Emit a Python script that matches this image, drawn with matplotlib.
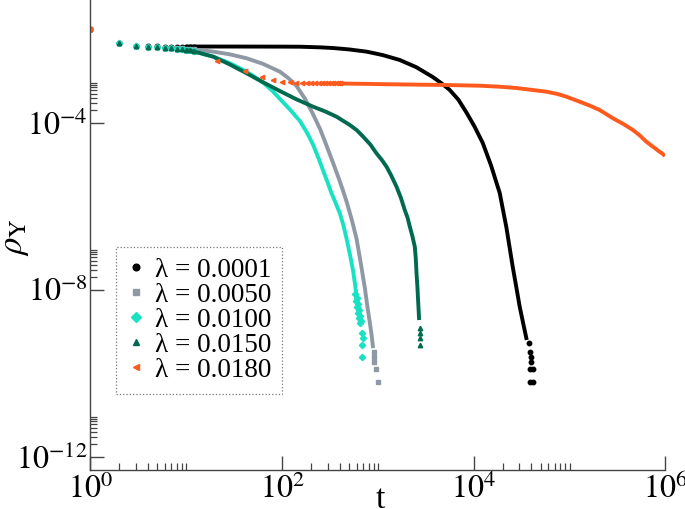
import matplotlib
matplotlib.use("Agg")
import matplotlib.pyplot as plt
import numpy as np
from matplotlib.ticker import FixedLocator, FixedFormatter, NullFormatter

plt.rcParams["font.family"] = ["Liberation Serif", "DejaVu Serif"]
plt.rcParams["mathtext.fontset"] = "stix"

# ---- data (log10 values) ----
labels = ["λ = 0.0001", "λ = 0.0050", "λ = 0.0100", "λ = 0.0150", "λ = 0.0180"]
colors = ["#000000", "#8e99a5", "#19e2c3", "#006a50", "#ff5a1e"]
markers = ["o", "s", "D", "^", "<"]

# sparse markers at early times (t = 1 .. 12)
t_early = [1, 2, 3, 4, 5, 6, 7, 8, 9, 10, 11, 12]
black_early = [-1.756, -2.098, -2.168, -2.172, -2.174, -2.175, -2.175, -2.175, -2.175, -2.175, -2.175, -2.175]
grey_early = [-1.756, -2.098, -2.168, -2.18, -2.19, -2.20, -2.205, -2.21, -2.22, -2.228, -2.23, -2.235]
cyan_early = [-1.756, -2.098, -2.168, -2.18, -2.195, -2.205, -2.215, -2.225, -2.24, -2.259, -2.27, -2.28]
green_early = [-1.756, -2.098, -2.168, -2.18, -2.195, -2.205, -2.215, -2.228, -2.243, -2.259, -2.27, -2.283]
t_orange_early = [1, 21, 41, 61, 81, 101, 121, 141, 161, 181, 201,
                  221, 241, 261, 281, 301, 321, 341, 361, 381, 401]
orange_early = [-1.756, -2.522, -2.762, -2.898, -2.977, -3.018, -3.037, -3.042, -3.049, -3.050, -3.053,
                -3.055, -3.056, -3.057, -3.058, -3.058, -3.059, -3.059, -3.060, -3.060, -3.061]

# dense part (drawn as thick curves)
black_logt = [1.0, 1.5, 2.0, 2.186, 2.4, 2.53, 2.7, 2.884, 3.05, 3.228, 3.4, 3.572, 3.66, 3.75,
              3.84, 3.927, 4.01, 4.094, 4.18, 4.271, 4.34, 4.407, 4.445, 4.48, 4.52, 4.553]
black_logr = [-2.175, -2.176, -2.178, -2.18, -2.195, -2.211, -2.245, -2.299, -2.38, -2.498, -2.67, -2.905,
              -3.05, -3.217, -3.45, -3.768, -4.10, -4.486, -5.02, -5.684, -6.50, -7.456, -7.95, -8.414,
              -8.85, -9.205]
grey_logt = [1.0, 1.14, 1.282, 1.45, 1.63, 1.80, 1.977, 2.07, 2.151, 2.24, 2.324, 2.40, 2.464, 2.53,
             2.585, 2.635, 2.681, 2.73, 2.777, 2.82, 2.863, 2.89, 2.915, 2.935, 2.95]
grey_logr = [-2.228, -2.26, -2.299, -2.36, -2.457, -2.59, -2.778, -2.94, -3.12, -3.43, -3.80, -4.17,
             -4.55, -4.95, -5.293, -5.62, -5.95, -6.35, -6.78, -7.35, -7.95, -8.40, -8.78, -9.10, -9.40]
cyan_logt = [1.0, 1.14, 1.282, 1.45, 1.63, 1.803, 1.90, 1.977, 2.08, 2.186, 2.26, 2.324, 2.38, 2.429,
             2.475, 2.516, 2.56, 2.603, 2.64, 2.673, 2.71, 2.741, 2.76, 2.777]
cyan_logr = [-2.259, -2.33, -2.419, -2.57, -2.778, -3.04, -3.24, -3.43, -3.68, -3.96, -4.24, -4.53,
             -4.85, -5.15, -5.43, -5.69, -5.93, -6.17, -6.46, -6.78, -7.18, -7.55, -7.85, -8.15]
green_logt = [1.0, 1.14, 1.282, 1.45, 1.63, 1.80, 1.977, 2.15, 2.324, 2.45, 2.568, 2.707, 2.78, 2.846,
              2.92, 2.985, 3.04, 3.09, 3.14, 3.194, 3.24, 3.28, 3.31, 3.333, 3.36, 3.385, 3.395, 3.403,
              3.412, 3.419, 3.425, 3.43]
green_logr = [-2.259, -2.33, -2.419, -2.60, -2.817, -3.03, -3.241, -3.44, -3.617, -3.73, -3.856, -4.055,
              -4.18, -4.335, -4.52, -4.733, -4.89, -5.054, -5.27, -5.533, -5.80, -6.091, -6.28, -6.491,
              -6.72, -6.97, -7.25, -7.607, -7.93, -8.247, -8.50, -8.726]
orange_logt = [2.60, 3.0, 3.4, 3.715, 4.063, 4.271, 4.45, 4.615, 4.758, 4.87, 4.967, 5.105, 5.21, 5.314,
               5.453, 5.56, 5.661, 5.73, 5.801, 5.87, 5.93, 5.974, 5.995]
orange_logr = [-3.061, -3.075, -3.088, -3.097, -3.114, -3.138, -3.17, -3.217, -3.257, -3.31, -3.377,
               -3.497, -3.59, -3.696, -3.895, -4.03, -4.175, -4.30, -4.455, -4.575, -4.68, -4.75, -4.80]

# discrete points at the tails
black_tail_logt = [4.574, 4.584, 4.594, 4.594, 4.584, 4.615, 4.584, 4.615]
black_tail_logr = [-9.277, -9.492, -9.612, -9.732, -9.900, -9.900, -10.204, -10.204]
grey_tail_logt = [2.955, 2.960, 2.960, 2.985, 2.996]
grey_tail_logr = [-9.49, -9.605, -9.739, -9.907, -10.204]
cyan_tail_logt = [2.76, 2.78, 2.77, 2.79, 2.78, 2.80, 2.79, 2.81, 2.80, 2.82, 2.81, 2.829, 2.846, 2.839, 2.839]
cyan_tail_logr = [-8.10, -8.20, -8.28, -8.35, -8.42, -8.48, -8.55, -8.62, -8.68, -8.75, -8.80, -9.04, -9.15, -9.32, -9.62]
green_tail_logt = [3.437, 3.437, 3.437, 3.437]
green_tail_logr = [-8.925, -9.044, -9.150, -9.325]

x_major = [1e0, 1e2, 1e4, 1e6]
x_major_labels = [r"$10^{0}$", r"$10^{2}$", r"$10^{4}$", r"$10^{6}$"]
y_major = [1e-12, 1e-8, 1e-4]
y_major_labels = [r"$10^{-12}$", r"$10^{-8}$", r"$10^{-4}$"]

fig = plt.figure(figsize=(6.85, 5.09), dpi=100)
ax = fig.add_axes([0.132, 0.0766, 0.8394, 0.9234])

series = [
    (t_early, black_early, black_logt, black_logr, black_tail_logt, black_tail_logr),
    (t_early, grey_early, grey_logt, grey_logr, grey_tail_logt, grey_tail_logr),
    (t_early, cyan_early, cyan_logt, cyan_logr, cyan_tail_logt, cyan_tail_logr),
    (t_early, green_early, green_logt, green_logr, green_tail_logt, green_tail_logr),
    (t_orange_early, orange_early, orange_logt, orange_logr, [], []),
]

handles = []
for (te, re_, lt, lr, tt, tr), c, m, lab in zip(series, colors, markers, labels):
    ax.plot(10 ** np.array(lt), 10 ** np.array(lr), color=c, lw=2.8,
            solid_capstyle="butt", solid_joinstyle="round")
    h, = ax.plot(te, 10 ** np.array(re_), ls="none", marker=m, ms=3.2, color=c, mec=c, label=lab)
    if tt:
        ax.plot(10 ** np.array(tt), 10 ** np.array(tr), ls="none", marker=m, ms=3.2, color=c, mec=c)
    handles.append(h)

ax.set_xscale("log")
ax.set_yscale("log")
ax.set_xlim(1, 1e6)
ax.set_ylim(10 ** -12.319, 10 ** -1.061)

ax.xaxis.set_major_locator(FixedLocator(x_major))
ax.xaxis.set_major_formatter(FixedFormatter(x_major_labels))
ax.yaxis.set_major_locator(FixedLocator(y_major))
ax.yaxis.set_major_formatter(FixedFormatter(y_major_labels))
x_minor = [k * d for d in (1e0, 1e2, 1e4) for k in range(2, 11)]
y_minor = [k * d for d in y_major for k in range(2, 10)]
ax.xaxis.set_minor_locator(FixedLocator(x_minor))
ax.yaxis.set_minor_locator(FixedLocator(y_minor))
ax.xaxis.set_minor_formatter(NullFormatter())
ax.yaxis.set_minor_formatter(NullFormatter())

ax.tick_params(which="both", direction="in", colors="#444444", labelcolor="black",
               labelsize=23, top=False, right=False)
ax.tick_params(which="major", length=10, width=1.0, pad=3)
ax.tick_params(which="minor", length=5, width=0.9)
ax.tick_params(axis="y", which="major", pad=2)

for side in ("top", "right"):
    ax.spines[side].set_visible(False)
for side in ("left", "bottom"):
    ax.spines[side].set_color("#444444")
    ax.spines[side].set_linewidth(1.0)

ax.set_xlabel("t", fontsize=24)
ax.xaxis.set_label_coords(0.505, -0.03)
ax.set_ylabel(r"$\rho_{\mathrm{Y}}$", fontsize=25)
ax.yaxis.set_label_coords(-0.104, 0.496)

leg = ax.legend(handles=handles, loc="upper left", bbox_to_anchor=(0.0445, 0.4745),
                borderaxespad=0, fontsize=19.5, markerscale=1.5, handlelength=0.7,
                handletextpad=0.35, labelspacing=0.0, borderpad=0.4,
                fancybox=False, frameon=True)
leg.get_frame().set_linestyle(":")
leg.get_frame().set_edgecolor("#555555")
leg.get_frame().set_linewidth(0.9)

fig.savefig("out.png", dpi=100)
